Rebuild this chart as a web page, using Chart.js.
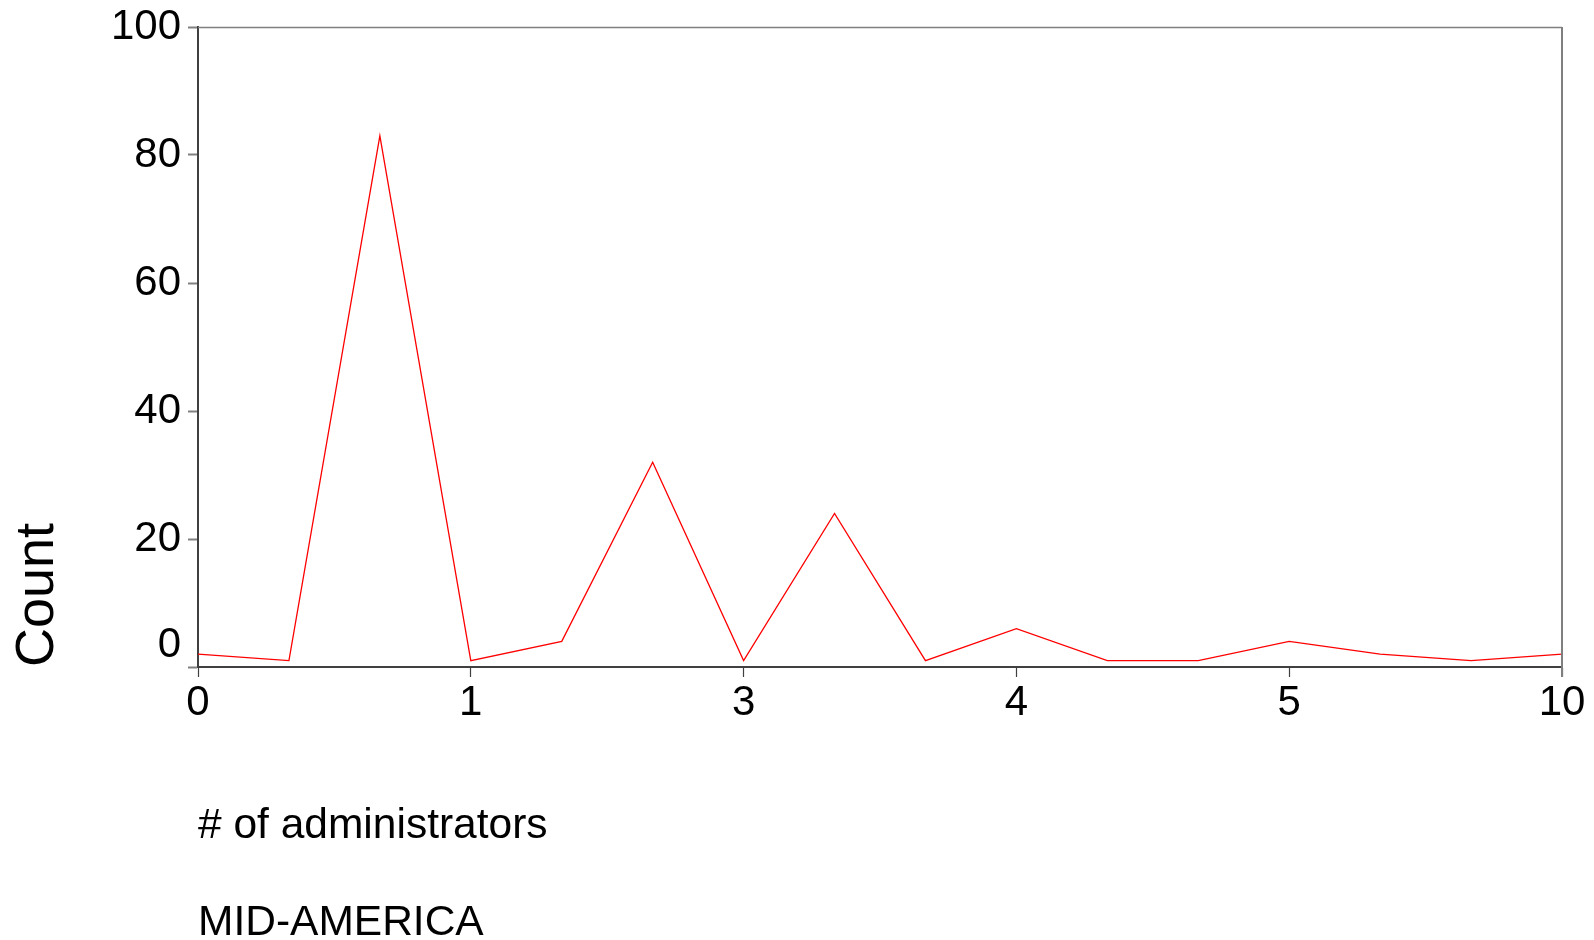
<!DOCTYPE html>
<html>
<head>
<meta charset="utf-8">
<script src="https://cdn.jsdelivr.net/npm/chart.js@4/dist/chart.umd.min.js"></script>
<style>
  html, body { margin: 0; padding: 0; background: #ffffff; }
  #wrap { width: 1594px; height: 940px; position: relative; }
</style>
</head>
<body>
<div id="wrap"><canvas id="c"></canvas></div>
<script>
// ---- data ----
const categories = ['0', '', '', '1', '', '', '3', '', '', '4', '', '', '5', '', '', '10'];
const counts = [2, 1, 83, 1, 4, 32, 1, 24, 1, 6, 1, 1, 4, 2, 1, 2];
const yTicks = [0, 20, 40, 60, 80, 100];
const xTitle = '# of administrators';
const yTitle = 'Count';
const caption = 'MID-AMERICA';

const FONT = "'Liberation Sans', Arial, Helvetica, sans-serif";

const framePlugin = {
  id: 'frame',
  afterDatasetsDraw(chart) {
    const {ctx, chartArea: a} = chart;
    ctx.save();
    ctx.strokeStyle = '#7f7f7f';
    ctx.lineWidth = 1.5;
    ctx.beginPath();
    ctx.moveTo(a.left, a.top + 0.5);
    ctx.lineTo(a.right, a.top + 0.5);
    ctx.stroke();
    ctx.lineWidth = 2;
    ctx.beginPath();
    ctx.moveTo(a.right, a.top);
    ctx.lineTo(a.right, a.bottom + 10);
    ctx.stroke();
    ctx.restore();
  }
};

const captionPlugin = {
  id: 'caption',
  afterDraw(chart) {
    const {ctx, chartArea: a} = chart;
    ctx.save();
    ctx.fillStyle = '#000000';
    ctx.font = '42.5px ' + FONT;
    ctx.textAlign = 'left';
    ctx.textBaseline = 'middle';
    ctx.fillText(caption, a.left, 923);
    ctx.restore();
  }
};

new Chart(document.getElementById('c'), {
  type: 'line',
  data: {
    labels: categories,
    datasets: [{
      data: counts,
      borderColor: '#ff0000',
      borderWidth: 1.3,
      pointRadius: 0,
      tension: 0,
      fill: false
    }]
  },
  options: {
    responsive: true,
    maintainAspectRatio: false,
    animation: false,
    layout: { padding: { top: 27, right: 32, left: 0, bottom: 0 } },
    plugins: { legend: { display: false }, tooltip: { enabled: false } },
    scales: {
      x: {
        type: 'category',
        offset: false,
        afterFit(scale) { scale.height = 273; },
        border: { color: '#404040', width: 2 },
        grid: {
          drawOnChartArea: false,
          drawTicks: true,
          tickLength: 10,
          tickWidth: 1.2,
          tickColor: (ctx) => (categories[ctx.index] !== '' ? '#404040' : 'rgba(0,0,0,0)')
        },
        ticks: {
          autoSkip: false,
          maxRotation: 0,
          color: '#000000',
          padding: 1,
          font: { family: FONT, size: 42 },
          callback: (v, i) => categories[i]
        },
        title: {
          display: true,
          text: xTitle,
          align: 'start',
          color: '#000000',
          font: { family: FONT, size: 42.5 },
          padding: { top: 0, bottom: 88 }
        }
      },
      y: {
        min: 0,
        max: 100,
        afterFit(scale) {
          scale.width = 198;
          scale.paddingTop = 0;
          scale.paddingBottom = 0;
        },
        afterBuildTicks(scale) { scale.ticks = yTicks.map(v => ({ value: v })); },
        border: { color: '#404040', width: 2 },
        grid: {
          drawOnChartArea: false,
          drawTicks: true,
          tickLength: 10,
          tickWidth: 2,
          tickColor: '#808080'
        },
        ticks: {
          color: '#000000',
          padding: 7,
          font: { family: FONT, size: 42, lineHeight: 44 / 42 },
          callback: (v) => (v === 0 ? ['0', ''] : String(v))
        },
        title: {
          display: true,
          text: yTitle,
          align: 'start',
          color: '#000000',
          font: { family: FONT, size: 54 },
          padding: { top: 6, bottom: 0 }
        }
      }
    }
  },
  plugins: [framePlugin, captionPlugin]
});
</script>
</body>
</html>
